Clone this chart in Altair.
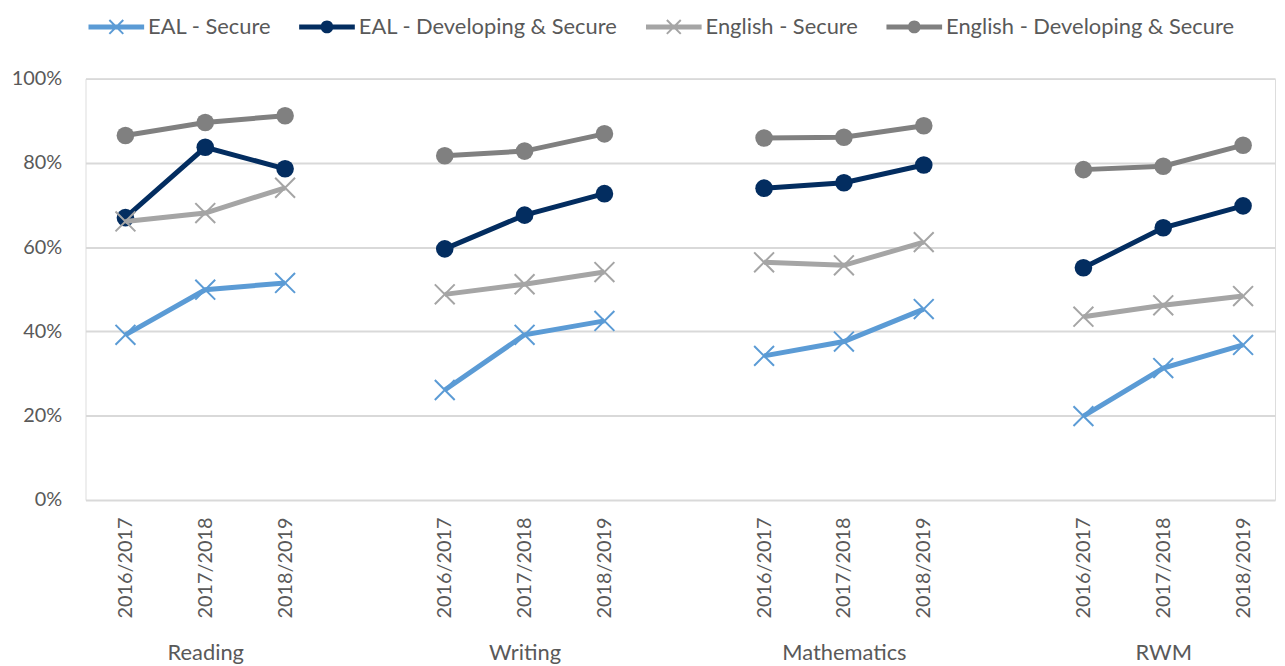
import altair as alt
import pandas as pd

groups = ["Reading", "Writing", "Mathematics", "RWM"]
years = ["2016/2017", "2017/2018", "2018/2019"]
series = ["EAL - Secure", "EAL - Developing & Secure", "English - Secure", "English - Developing & Secure"]
colors = ["#5B9BD5", "#032D60", "#A5A5A5", "#808080"]

eal_secure = [39.2, 49.9, 51.5, 26.1, 39.2, 42.5, 34.2, 37.6, 45.3, 19.9, 31.3, 36.8]
eal_dev_secure = [67.0, 83.7, 78.6, 59.6, 67.6, 72.7, 74.0, 75.3, 79.5, 55.1, 64.6, 69.8]
eng_secure = [66.1, 68.1, 74.1, 48.8, 51.2, 54.1, 56.4, 55.7, 61.2, 43.5, 46.2, 48.4]
eng_dev_secure = [86.5, 89.6, 91.2, 81.7, 82.8, 86.9, 85.9, 86.1, 88.8, 78.4, 79.2, 84.2]

values = [eal_secure, eal_dev_secure, eng_secure, eng_dev_secure]

rows = []
for s, vals in zip(series, values):
    for gi, g in enumerate(groups):
        for yi, yr in enumerate(years):
            rows.append({"series": s, "group": g, "year": yr,
                         "pos": gi * 4 + yi, "value": vals[gi * 3 + yi]})
df = pd.DataFrame(rows)

FONT = "Lato"
TXT = "#595959"

tick_pos = [gi * 4 + yi for gi in range(len(groups)) for yi in range(len(years))]
group_pos = [gi * 4 + 1 for gi in range(len(groups))]
year_expr = "[" + ",".join(f"'{y}'" for y in years) + "][datum.value % 4]"
group_expr = "[" + ",".join(f"'{g}'" for g in groups) + "][floor(datum.value / 4)]"

xscale = alt.Scale(domain=[-0.5, 14.4], nice=False, zero=False)
year_axis = alt.Axis(values=tick_pos, labelExpr=year_expr, labelAngle=270, labelAlign="right",
                     labelBaseline="middle", labelPadding=17, ticks=False, tickSize=0,
                     domain=False, grid=False, title=None, labelFont=FONT, labelFontSize=20,
                     labelColor=TXT, orient="bottom")
group_axis = alt.Axis(values=group_pos, labelExpr=group_expr, labelAngle=0, labelAlign="center",
                      labelBaseline="alphabetic", labelPadding=161, ticks=False, tickSize=0,
                      domain=False, grid=False, title=None, labelFont=FONT, labelFontSize=22,
                      labelColor=TXT, orient="bottom")

y_enc = alt.Y("value:Q", scale=alt.Scale(domain=[0, 100], nice=False),
              axis=alt.Axis(values=[0, 20, 40, 60, 80, 100], labelExpr="datum.value + '%'",
                            domain=False, ticks=False, labelPadding=24, gridColor="#D9D9D9",
                            gridWidth=2, labelFont=FONT, labelFontSize=20, labelColor=TXT,
                            title=None))
color_scale = alt.Scale(domain=series, range=colors)

# legend symbol paths: line segment + marker
line_rect = "M-1,-0.09H1V0.09H-1Z"
x_mark = ("M-0.225,-0.275L0.275,0.225L0.225,0.275L-0.275,-0.225Z"
          "M-0.275,0.225L0.225,-0.275L0.275,-0.225L-0.225,0.275Z")
circ = "M0.23,0A0.23,0.23 0 1,1 -0.23,0A0.23,0.23 0 1,1 0.23,0Z"
shapes = [line_rect + x_mark, line_rect + circ, line_rect + x_mark, line_rect + circ]

layers = []
for i, s in enumerate(series):
    sub = alt.Chart(df).transform_filter(alt.datum.series == s)
    line = sub.mark_line(strokeWidth=5, color=colors[i]).encode(
        x=alt.X("pos:Q", scale=xscale, axis=year_axis if i == 0 else None),
        y=y_enc,
        detail="group:N",
    )
    if "Developing" in s:
        pts = sub.mark_circle(size=314, opacity=1, color=colors[i])
    else:
        pts = sub.mark_point(shape="M-1,-1L1,1M-1,1L1,-1", size=400, strokeWidth=2,
                             filled=False, opacity=1, color=colors[i])
    pts = pts.encode(
        x=alt.X("pos:Q", scale=xscale, axis=None),
        y=y_enc,
    )
    layers += [line, pts]

leg = alt.Legend(title=None, orient="none", legendX=3, legendY=-80,
                 direction="horizontal", symbolSize=3136,
                 symbolStrokeWidth=0, symbolOpacity=1,
                 labelFont=FONT, labelFontSize=22, labelColor=TXT,
                 labelOffset=4, columnPadding=28, padding=0, labelLimit=0)

legend_layer = alt.Chart(df).transform_filter("false").mark_point(filled=True, opacity=1).encode(
    x=alt.X("pos:Q", scale=xscale, axis=group_axis),
    y=y_enc,
    color=alt.Color("series:N", scale=color_scale, legend=leg),
    shape=alt.Shape("series:N", scale=alt.Scale(domain=series, range=shapes), legend=leg),
)

chart = alt.layer(*layers, legend_layer).resolve_axis(x="independent").properties(
    width=1197, height=424,
    autosize=alt.AutoSizeParams(type="none"),
    padding={"left": 78, "top": 69, "right": 2, "bottom": 165},
).configure_view(stroke=None).configure(background="white")

chart.save("out.html", embed_options={"renderer": "svg", "actions": False})
